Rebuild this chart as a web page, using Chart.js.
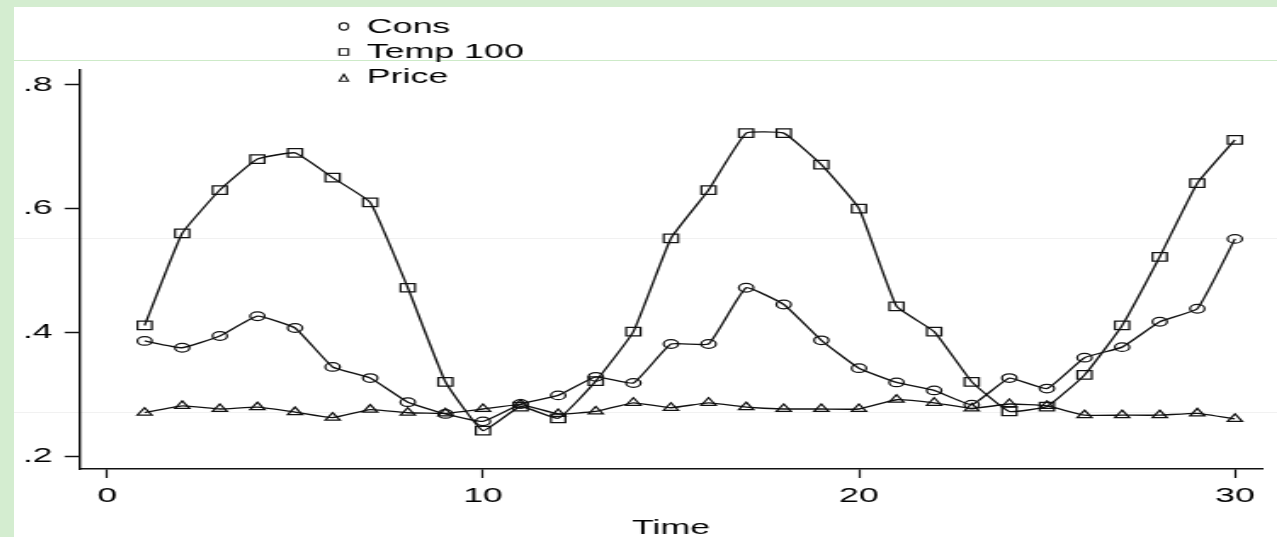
<!DOCTYPE html>
<html>
<head>
<meta charset="utf-8">
<title>Cons, Temp 100, Price over Time</title>
<script src="https://cdn.jsdelivr.net/npm/chart.js@4.4.1/dist/chart.umd.min.js"></script>
<style>
  html, body { margin: 0; padding: 0; }
  body { width: 1277px; height: 537px; background: #d4edd0; position: relative; overflow: hidden; }
  .sheet { position: absolute; left: 14px; top: 7px; width: 1263px; height: 530px; background: #fff; }
  .rule { position: absolute; left: 14px; width: 1263px; height: 1px; }
  .rule.green { top: 60px; background: #cdeac8; }
  .rule.grey { background: #f1f1f1; }
  /* the plot is laid out narrow and then stretched sideways */
  #wrap { position: absolute; left: 14px; top: 7px; transform-origin: 0 0; transform: scaleX(1.7); }
  canvas { display: block; }
</style>
</head>
<body>
<div class="sheet"></div>
<div class="rule green"></div>
<div class="rule grey" style="top:238px"></div>
<div class="rule grey" style="top:412px"></div>
<div id="wrap"><canvas id="chart" width="743" height="530"></canvas></div>
<script>
const time = [1, 2, 3, 4, 5, 6, 7, 8, 9, 10, 11, 12, 13, 14, 15,
              16, 17, 18, 19, 20, 21, 22, 23, 24, 25, 26, 27, 28, 29, 30];
const cons = [0.386, 0.375, 0.394, 0.426, 0.407, 0.344, 0.326, 0.287, 0.268, 0.256,
              0.284, 0.298, 0.328, 0.318, 0.381, 0.381, 0.472, 0.445, 0.387, 0.342,
              0.319, 0.306, 0.283, 0.326, 0.309, 0.359, 0.376, 0.417, 0.438, 0.551];
const temp100 = [0.411, 0.560, 0.630, 0.680, 0.690, 0.650, 0.610, 0.472, 0.320, 0.241,
                 0.280, 0.261, 0.321, 0.401, 0.552, 0.630, 0.722, 0.722, 0.671, 0.600,
                 0.442, 0.401, 0.320, 0.272, 0.280, 0.331, 0.411, 0.522, 0.641, 0.711];
const price = [0.270, 0.281, 0.276, 0.279, 0.271, 0.262, 0.275, 0.270, 0.269, 0.276,
               0.283, 0.268, 0.272, 0.286, 0.278, 0.286, 0.279, 0.276, 0.276, 0.276,
               0.291, 0.286, 0.277, 0.284, 0.281, 0.266, 0.266, 0.266, 0.269, 0.260];
const xTicks = [0, 10, 20, 30];
const yTicks = [0.2, 0.4, 0.6, 0.8];

const STRETCH = 1.7;
const FONT = '"Liberation Sans", Arial, Helvetica, sans-serif';

Chart.defaults.font.family = FONT;
Chart.defaults.font.size = 21;
Chart.defaults.color = '#000';

const toPoints = (ys) => time.map((t, i) => ({ x: t, y: ys[i] }));

const series = (label, ys, style, radius) => ({
  label: label,
  data: toPoints(ys),
  borderColor: '#111',
  borderWidth: 1.35,
  tension: 0.12,
  fill: false,
  pointStyle: style,
  pointRadius: radius,
  pointBorderWidth: 1.25,
  pointBorderColor: '#111',
  pointBackgroundColor: 'rgba(0,0,0,0)'
});

// legend stacked in one column above the plot, markers kept small and round
const stackedLegend = {
  id: 'stackedLegend',
  afterDraw(chart) {
    const ctx = chart.ctx;
    const mx = 194, tx = 207.6;
    const rows = [
      { y: 20, my: 19.5 },
      { y: 45, my: 45 },
      { y: 70.5, my: 71 }
    ];
    ctx.save();
    ctx.font = '21px ' + FONT;
    ctx.fillStyle = '#000';
    ctx.textBaseline = 'middle';
    ctx.textAlign = 'left';
    ctx.strokeStyle = '#111';
    ctx.lineWidth = 1.1;
    chart.data.datasets.forEach((ds, i) => {
      const r = rows[i];
      const rx = 4.5 / STRETCH;
      ctx.beginPath();
      if (ds.pointStyle === 'circle') {
        ctx.ellipse(mx, r.my, rx, 3.6, 0, 0, Math.PI * 2);
      } else if (ds.pointStyle === 'rect') {
        ctx.rect(mx - rx, r.my - 3.3, rx * 2, 6.6);
      } else {
        ctx.moveTo(mx, r.my - 3.8);
        ctx.lineTo(mx + rx, r.my + 3.2);
        ctx.lineTo(mx - rx, r.my + 3.2);
        ctx.closePath();
      }
      ctx.stroke();
      ctx.fillText(ds.label, tx, r.y);
    });
    ctx.restore();
  }
};

new Chart(document.getElementById('chart'), {
  type: 'line',
  data: {
    datasets: [
      series('Cons', cons, 'circle', 4.3),
      series('Temp 100', temp100, 'rect', 6),
      series('Price', price, 'triangle', 5)
    ]
  },
  options: {
    responsive: false,
    animation: false,
    events: [],
    layout: { padding: { top: 63, right: 8.9, left: 0, bottom: 0 } },
    plugins: { legend: { display: false }, tooltip: { enabled: false } },
    scales: {
      x: {
        type: 'linear',
        min: -0.72,
        max: 30.72,
        afterBuildTicks: (s) => { s.ticks = xTicks.map(v => ({ value: v })); },
        afterFit: (s) => { s.height = 68; },
        border: { display: true, color: '#111', width: 1.4 },
        grid: { drawOnChartArea: false, drawTicks: true, tickLength: 9, tickColor: '#111', tickWidth: 1.2 },
        ticks: { padding: 6, maxRotation: 0, autoSkip: false, color: '#000' },
        title: { display: true, text: 'Time', font: { size: 21, lineHeight: 0.8 }, padding: { top: 0, bottom: 0 }, color: '#000' }
      },
      y: {
        type: 'linear',
        min: 0.179,
        max: 0.824,
        afterBuildTicks: (s) => { s.ticks = yTicks.map(v => ({ value: v })); },
        afterFit: (s) => { s.width = 38.8; },
        border: { display: true, color: '#111', width: 1.4 },
        grid: { drawOnChartArea: false, drawTicks: true, tickLength: 9, tickColor: '#111', tickWidth: 1.5 },
        ticks: {
          padding: 7,
          autoSkip: false,
          color: '#000',
          callback: (v) => String(v).replace(/^0/, '')
        }
      }
    }
  },
  plugins: [stackedLegend]
});
</script>
</body>
</html>
